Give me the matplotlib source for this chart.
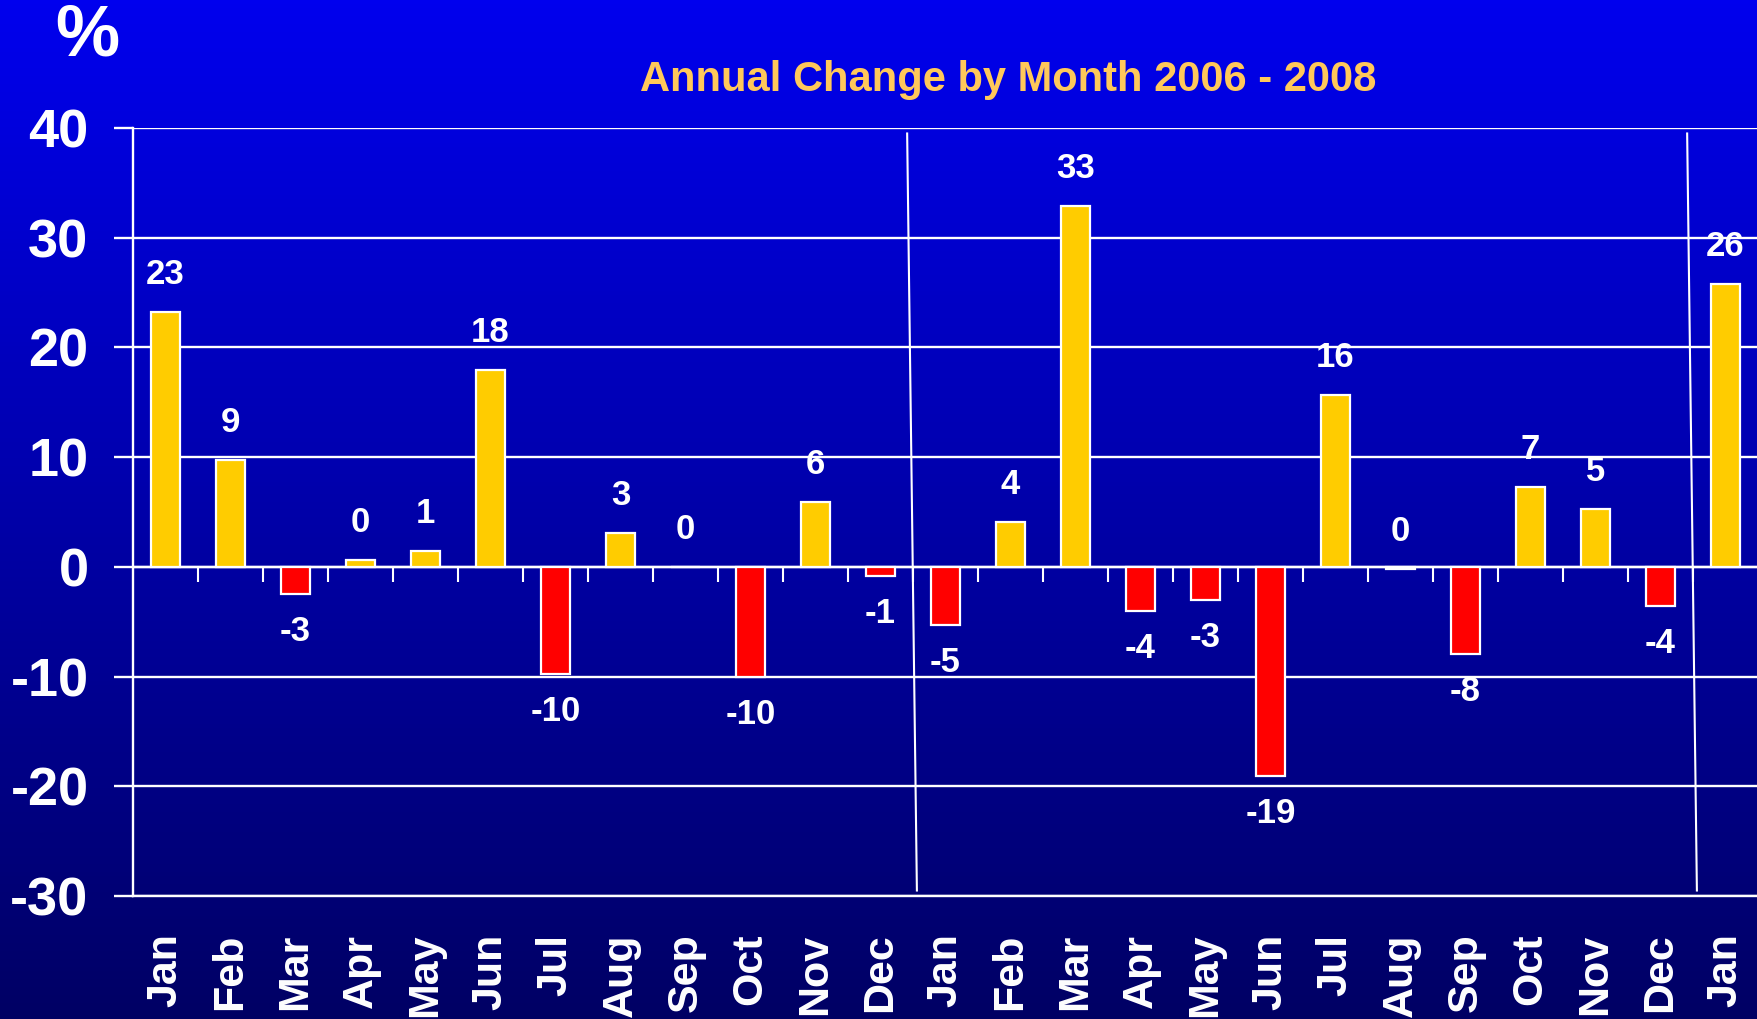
import numpy as np
import matplotlib.pyplot as plt

plt.rcParams['font.family'] = ['Liberation Sans', 'DejaVu Sans']
plt.rcParams['font.weight'] = 'bold'

# data
months = ['Jan', 'Feb', 'Mar', 'Apr', 'May', 'Jun', 'Jul', 'Aug', 'Sep', 'Oct', 'Nov', 'Dec',
          'Jan', 'Feb', 'Mar', 'Apr', 'May', 'Jun', 'Jul', 'Aug', 'Sep', 'Oct', 'Nov', 'Dec',
          'Jan']
values = [23.2, 9.7, -2.5, 0.6, 1.4, 17.9, -9.8, 3.1, 0.0, -10.0, 5.9, -0.8,
          -5.3, 4.1, 32.9, -4.0, -3.0, -19.1, 15.7, -0.2, -7.9, 7.3, 5.3, -3.6,
          25.8]
labels = ['23', '9', '-3', '0', '1', '18', '-10', '3', '0', '-10', '6', '-1',
          '-5', '4', '33', '-4', '-3', '-19', '16', '0', '-8', '7', '5', '-4',
          '26']
year_breaks = [11.5, 23.5]
yticks = [-30, -20, -10, 0, 10, 20, 30, 40]

fig = plt.figure(figsize=(17.58, 10.19), dpi=100)

# background gradient
bg = fig.add_axes([0, 0, 1, 1], zorder=-10)
grad = np.linspace(0, 1, 256).reshape(-1, 1)
top = np.array([0, 0, 238]) / 255
bot = np.array([0, 0, 100]) / 255
img = top + (bot - top) * grad[:, :, None]
bg.imshow(img, aspect='auto', extent=[0, 1, 0, 1])
bg.axis('off')

ax = fig.add_axes([133 / 1758, 1 - 896 / 1019, 1 - 133 / 1758, (896 - 128) / 1019])
ax.patch.set_alpha(0)

x = np.arange(len(values))
colors = ['#FFCC00' if v >= 0 else '#FF0000' for v in values]
ax.bar(x, values, width=0.45, color=colors, edgecolor='white', linewidth=1.6, zorder=3)

ax.set_xlim(-0.5, len(values) - 0.5)
ax.set_ylim(-30, 40)
ax.set_yticks(yticks)
ax.set_yticklabels([str(t) for t in yticks])
ax.yaxis.grid(True, color='white', linewidth=1.7)
ax.set_axisbelow(True)
ax.tick_params(axis='y', colors='white', labelsize=39, length=14, width=1.7, pad=18)
ax.tick_params(axis='x', colors='white', labelsize=31, length=0, pad=27)
ax.set_xticks(x)
ax.set_xticklabels(months, rotation=90, va='top')

for s in ['top', 'right']:
    ax.spines[s].set_visible(False)
for s in ['left', 'bottom']:
    ax.spines[s].set_color('white')
    ax.spines[s].set_linewidth(1.7)

# zero line with small ticks between months
ax.axhline(0, color='white', linewidth=1.7, zorder=2)
ax.vlines(x[:-1] + 0.5, -1.4, 0, color='white', linewidth=1.5, zorder=2)

# year separators
for b in year_breaks:
    ax.plot([b - 0.09, b + 0.06], [39.5, -29.5], color='white', linewidth=1.5,
            clip_on=False, zorder=2)

# value labels
for xi, v, lab in zip(x, values, labels):
    off = 27 if not lab.startswith('-') else -27
    ax.annotate(lab, (xi, v), xytext=(0, off), textcoords='offset points',
                ha='center', va='center', color='white', fontsize=25, fontweight='bold')

fig.text(1008 / 1758, 1 - 80 / 1019, 'Annual Change by Month 2006 - 2008',
         ha='center', va='center', color='#FFC85A', fontsize=30, fontweight='bold')
fig.text(87 / 1758, 1 - 36 / 1019, '%', ha='center', va='center', color='white',
         fontsize=52, fontweight='bold')

fig.savefig('out.png', dpi=100)
